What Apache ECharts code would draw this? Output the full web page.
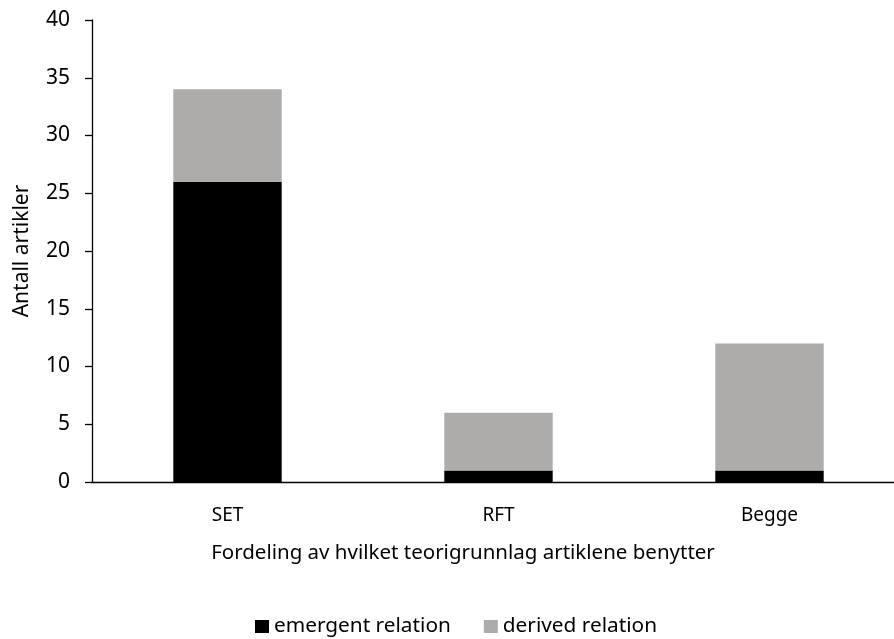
<!DOCTYPE html>
<html>
<head>
<meta charset="utf-8">
<script src="https://cdn.jsdelivr.net/npm/echarts@6/dist/echarts.min.js"></script>
<style>
  html, body { margin: 0; padding: 0; background: #fff; }
  #chart { width: 894px; height: 639px; }
</style>
</head>
<body>
<div id="chart"></div>
<script>
// Articles by theoretical basis, split by relation type
const categories = ['SET', 'RFT', 'Begge'];
const emergentRelation = [26, 1, 1];
const derivedRelation = [8, 5, 11];
const seriesNames = ['emergent relation', 'derived relation'];
const yTicks = { min: 0, max: 40, interval: 5 };

const FONT = 'Noto Sans';
const chart = echarts.init(document.getElementById('chart'), null, { renderer: 'canvas' });

chart.setOption({
  animation: false,
  backgroundColor: '#ffffff',
  textStyle: { fontFamily: FONT, color: '#000' },
  // the category band runs past the right edge of the canvas
  grid: {
    left: 92, top: 20, width: 813, height: 462,
    containLabel: false,
    outerBoundsMode: 'none'
  },
  legend: {
    data: seriesNames,
    top: 611,
    left: 250,
    itemWidth: 14,
    itemHeight: 13,
    itemGap: 33,
    icon: 'rect',
    textStyle: { fontFamily: FONT, fontSize: 20.8, color: '#000' }
  },
  xAxis: {
    type: 'category',
    data: categories,
    name: 'Fordeling av hvilket teorigrunnlag artiklene benytter',
    nameLocation: 'middle',
    nameGap: 61,
    nameTextStyle: { fontFamily: FONT, fontSize: 20.5, color: '#000', padding: [0, 71, 0, 0] },
    axisLine: { lineStyle: { color: '#000', width: 1.3 } },
    axisTick: { show: false },
    axisLabel: { fontFamily: FONT, fontSize: 19, color: '#000', margin: 24 }
  },
  yAxis: {
    type: 'value',
    min: yTicks.min,
    max: yTicks.max,
    interval: yTicks.interval,
    name: 'Antall artikler',
    nameLocation: 'middle',
    nameGap: 59,
    nameRotate: 90,
    nameTextStyle: { fontFamily: FONT, fontSize: 21, color: '#000' },
    axisLine: { show: true, lineStyle: { color: '#000', width: 1.3 } },
    axisTick: { show: true, inside: false, length: 7, lineStyle: { color: '#000', width: 1.3 } },
    axisLabel: { fontFamily: FONT, fontSize: 21, color: '#000', margin: 22 },
    splitLine: { show: false }
  },
  series: [
    {
      name: seriesNames[0],
      type: 'bar',
      stack: 'total',
      data: emergentRelation,
      barWidth: '40%',
      itemStyle: { color: '#000000' }
    },
    {
      name: seriesNames[1],
      type: 'bar',
      stack: 'total',
      data: derivedRelation,
      barWidth: '40%',
      itemStyle: { color: '#aeabab' }
    }
  ]
});
</script>
</body>
</html>
